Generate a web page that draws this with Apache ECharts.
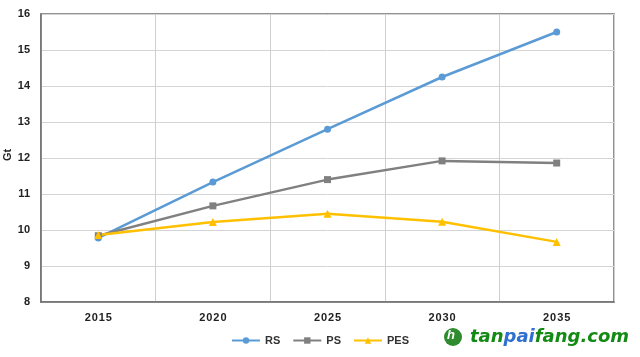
<!DOCTYPE html>
<html><head><meta charset="utf-8">
<script src="https://cdn.jsdelivr.net/npm/echarts@6/dist/echarts.min.js"></script>
<style>html,body{margin:0;padding:0;background:#fff}#c{width:640px;height:357px}</style>
</head><body><div id="c"></div>
<script>
const categories = ['2015','2020','2025','2030','2035'];
const rs = [9.78, 11.33, 12.8, 14.25, 15.5];
const ps = [9.84, 10.67, 11.4, 11.92, 11.86];
const pes = [9.86, 10.22, 10.45, 10.23, 9.67];
const yTicks = {min: 8, max: 16, interval: 1};
const yName = 'Gt';

const chart = echarts.init(document.getElementById('c'));
const lbl = {fontFamily: 'Liberation Sans', fontWeight: 'bold', fontSize: 11, color: '#222'};
chart.setOption({
  animation: false,
  grid: {left: 41, top: 14, right: 26, bottom: 55, containLabel: false, outerBoundsMode: 'none',
         show: true, borderColor: '#6f6f6f', borderWidth: 1.5},
  legend: {
    bottom: 6, left: 'center', itemWidth: 28, itemHeight: 8, itemGap: 12,
    textStyle: {fontFamily: 'Liberation Sans', fontWeight: 'bold', fontSize: 11, color: '#333'},
    data: ['RS','PS','PES']
  },
  xAxis: {
    type: 'category', data: categories, boundaryGap: true,
    axisLine: {lineStyle: {color: '#6f6f6f', width: 1.5}},
    axisTick: {show: false},
    splitLine: {show: true, lineStyle: {color: '#cfcfcf', width: 1}},
    axisLabel: Object.assign({margin: 10, formatter: v => v.split('').join('\u200a')}, lbl)
  },
  yAxis: {
    type: 'value', min: yTicks.min, max: yTicks.max, interval: yTicks.interval,
    axisLine: {show: true, lineStyle: {color: '#6f6f6f', width: 1.5}},
    axisTick: {show: false},
    splitLine: {lineStyle: {color: '#d4d4d4', width: 1}},
    axisLabel: Object.assign({margin: 11}, lbl)
  },
  series: [
    {name: 'RS', type: 'line', data: rs, symbol: 'circle', symbolSize: 7,
     lineStyle: {color: '#5b9bd5', width: 2.5}, itemStyle: {color: '#5b9bd5'}},
    {name: 'PS', type: 'line', data: ps, symbol: 'rect', symbolSize: 7,
     lineStyle: {color: '#808080', width: 2.5}, itemStyle: {color: '#808080'}},
    {name: 'PES', type: 'line', data: pes, symbol: 'triangle', symbolSize: 8,
     lineStyle: {color: '#ffc000', width: 2.5}, itemStyle: {color: '#ffc000'}}
  ],
  graphic: [
    {type: 'text', x: 8, y: 155, rotation: Math.PI / 2,
     style: {text: yName, align: 'center', verticalAlign: 'middle', fill: '#222',
             font: 'bold 11px "Liberation Sans"'}},
    {type: 'circle', shape: {cx: 453, cy: 337, r: 9}, style: {fill: '#2e8b2e'}},
    {type: 'text', left: 447, top: 329, style: {text: 'h', fill: '#fff', font: 'bold italic 13px Liberation Sans'}},
    {type: 'text', left: 470, top: 328, style: {
      rich: {
        g: {fill: '#138a13', font: 'bold italic 18px "DejaVu Sans"'},
        b: {fill: '#2f6fcf', font: 'bold italic 18px "DejaVu Sans"'}
      },
      text: '{g|tan}{b|pai}{g|fang.com}'
    }}
  ]
});
</script></body></html>
